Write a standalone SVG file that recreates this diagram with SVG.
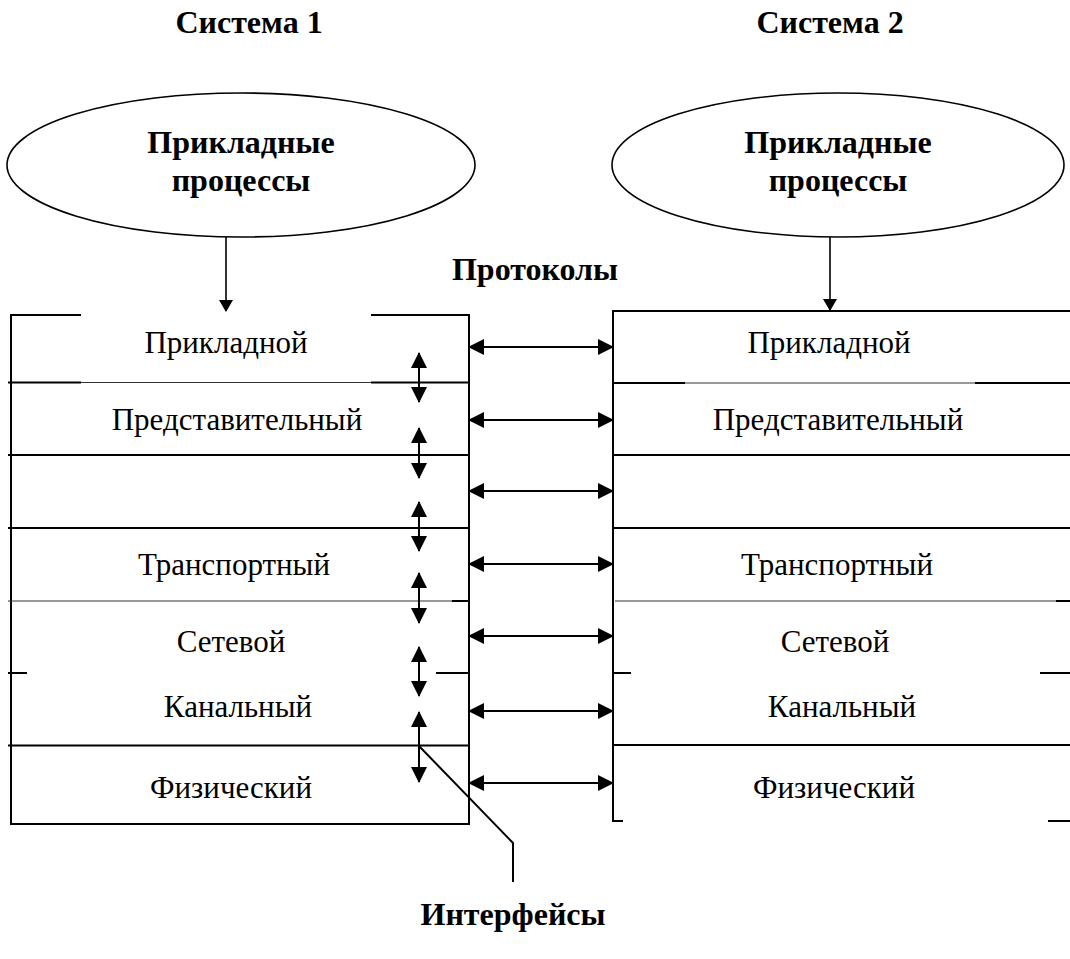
<svg xmlns="http://www.w3.org/2000/svg" width="1070" height="959" viewBox="0 0 1070 959">
<defs>
<marker id="ah" viewBox="0 0 16 16" refX="15" refY="8" markerWidth="16" markerHeight="16" markerUnits="userSpaceOnUse" orient="auto-start-reverse">
<path d="M0,0 L16,8 L0,16 z" fill="#000"/>
</marker>
<marker id="ahs" viewBox="0 0 12 12" refX="11" refY="6" markerWidth="12" markerHeight="14" markerUnits="userSpaceOnUse" orient="auto-start-reverse" preserveAspectRatio="none">
<path d="M0,0 L12,6 L0,12 z" fill="#000"/>
</marker>
<style>
.ttl{font-family:"Liberation Serif","Times New Roman",serif;font-weight:bold;font-size:32px;fill:#000;text-anchor:middle}
.lay{font-family:"Liberation Serif","Times New Roman",serif;font-size:31px;fill:#000;text-anchor:middle}
.thk{stroke:#000;stroke-width:2;fill:none}
.thn{stroke:#333;stroke-width:1.2;fill:none}
.ell{stroke:#000;stroke-width:1.6;fill:none}
.arr{stroke:#000;stroke-width:2;fill:none;marker-start:url(#ah);marker-end:url(#ah)}
.down{stroke:#000;stroke-width:1.6;fill:none;marker-end:url(#ahs)}
</style>
</defs>
<rect width="1070" height="959" fill="#fff"/>

<g id="titles">
<text class="ttl" x="249" y="33">Система 1</text>
<text class="ttl" x="830" y="33">Система 2</text>
<text class="ttl" x="535" y="280">Протоколы</text>
<text class="ttl" x="513" y="925">Интерфейсы</text>
</g>

<g id="proc1">
<ellipse cx="241" cy="165" rx="234" ry="72" class="ell"/>
<text class="ttl" x="241" y="153">Прикладные</text>
<text class="ttl" x="241" y="191">процессы</text>
</g>
<g id="proc2">
<ellipse cx="838" cy="165" rx="226" ry="72" class="ell"/>
<text class="ttl" x="838" y="153">Прикладные</text>
<text class="ttl" x="838" y="191">процессы</text>
</g>

<g id="stack1">
<line class="thk" x1="11" y1="314" x2="11" y2="825"/>
<line class="thk" x1="469" y1="314" x2="469" y2="825"/>
<line class="thk" x1="10" y1="315" x2="81" y2="315"/>
<line class="thk" x1="371" y1="315" x2="470" y2="315"/>
<line class="thk" x1="8" y1="382.5" x2="81" y2="382.5"/>
<line class="thn" x1="81" y1="382.5" x2="371" y2="382.5"/>
<line class="thk" x1="371" y1="382.5" x2="469" y2="382.5"/>
<line class="thk" x1="8" y1="455" x2="469" y2="455"/>
<line class="thk" x1="8" y1="528" x2="469" y2="528"/>
<line class="thn" x1="8" y1="601" x2="452" y2="601"/>
<line class="thk" x1="452" y1="601" x2="469" y2="601"/>
<line class="thk" x1="8" y1="673" x2="27" y2="673"/>
<line class="thk" x1="436" y1="673" x2="469" y2="673"/>
<line class="thk" x1="8" y1="745.5" x2="469" y2="745.5"/>
<line class="thk" x1="10" y1="824" x2="470" y2="824"/>
<text class="lay" x="226" y="353">Прикладной</text>
<text class="lay" x="237" y="430">Представительный</text>
<text class="lay" x="234" y="575">Транспортный</text>
<text class="lay" x="231" y="652">Сетевой</text>
<text class="lay" x="238" y="717">Канальный</text>
<text class="lay" x="231" y="798">Физический</text>
</g>

<g id="stack2">
<line class="thk" x1="613" y1="310" x2="613" y2="822"/>
<line class="thk" x1="612" y1="311" x2="1070" y2="311"/>
<line class="thk" x1="613" y1="383" x2="685" y2="383"/>
<line class="thn" x1="685" y1="383" x2="975" y2="383"/>
<line class="thk" x1="975" y1="383" x2="1070" y2="383"/>
<line class="thk" x1="613" y1="455" x2="1070" y2="455"/>
<line class="thk" x1="613" y1="528" x2="1070" y2="528"/>
<line class="thn" x1="615" y1="601" x2="1056" y2="601"/>
<line class="thk" x1="1056" y1="601" x2="1070" y2="601"/>
<line class="thk" x1="613" y1="673" x2="631" y2="673"/>
<line class="thk" x1="1040" y1="673" x2="1070" y2="673"/>
<line class="thk" x1="613" y1="745" x2="1070" y2="745"/>
<line class="thk" x1="612" y1="821" x2="623" y2="821"/>
<line class="thk" x1="1048" y1="821" x2="1070" y2="821"/>
<text class="lay" x="829" y="353">Прикладной</text>
<text class="lay" x="838" y="430">Представительный</text>
<text class="lay" x="837" y="575">Транспортный</text>
<text class="lay" x="835" y="652">Сетевой</text>
<text class="lay" x="842" y="717">Канальный</text>
<text class="lay" x="834" y="798">Физический</text>
</g>

<g id="connectors">
<line class="down" x1="226" y1="237" x2="226" y2="311"/>
<line class="down" x1="830" y1="237" x2="830" y2="310"/>
<line class="arr" x1="469" y1="347" x2="613" y2="347"/>
<line class="arr" x1="469" y1="420" x2="613" y2="420"/>
<line class="arr" x1="469" y1="491" x2="613" y2="491"/>
<line class="arr" x1="469" y1="564" x2="613" y2="564"/>
<line class="arr" x1="469" y1="636" x2="613" y2="636"/>
<line class="arr" x1="469" y1="711" x2="613" y2="711"/>
<line class="arr" x1="469" y1="783" x2="613" y2="783"/>
<line class="arr" x1="419" y1="353" x2="419" y2="402"/>
<line class="arr" x1="419" y1="428" x2="419" y2="478"/>
<line class="arr" x1="419" y1="502" x2="419" y2="551"/>
<line class="arr" x1="419" y1="573" x2="419" y2="623"/>
<line class="arr" x1="419" y1="647" x2="419" y2="696"/>
<line class="arr" x1="419" y1="712" x2="419" y2="782"/>
<polyline class="thk" points="419,746 513,843 513,882"/>
</g>
</svg>
